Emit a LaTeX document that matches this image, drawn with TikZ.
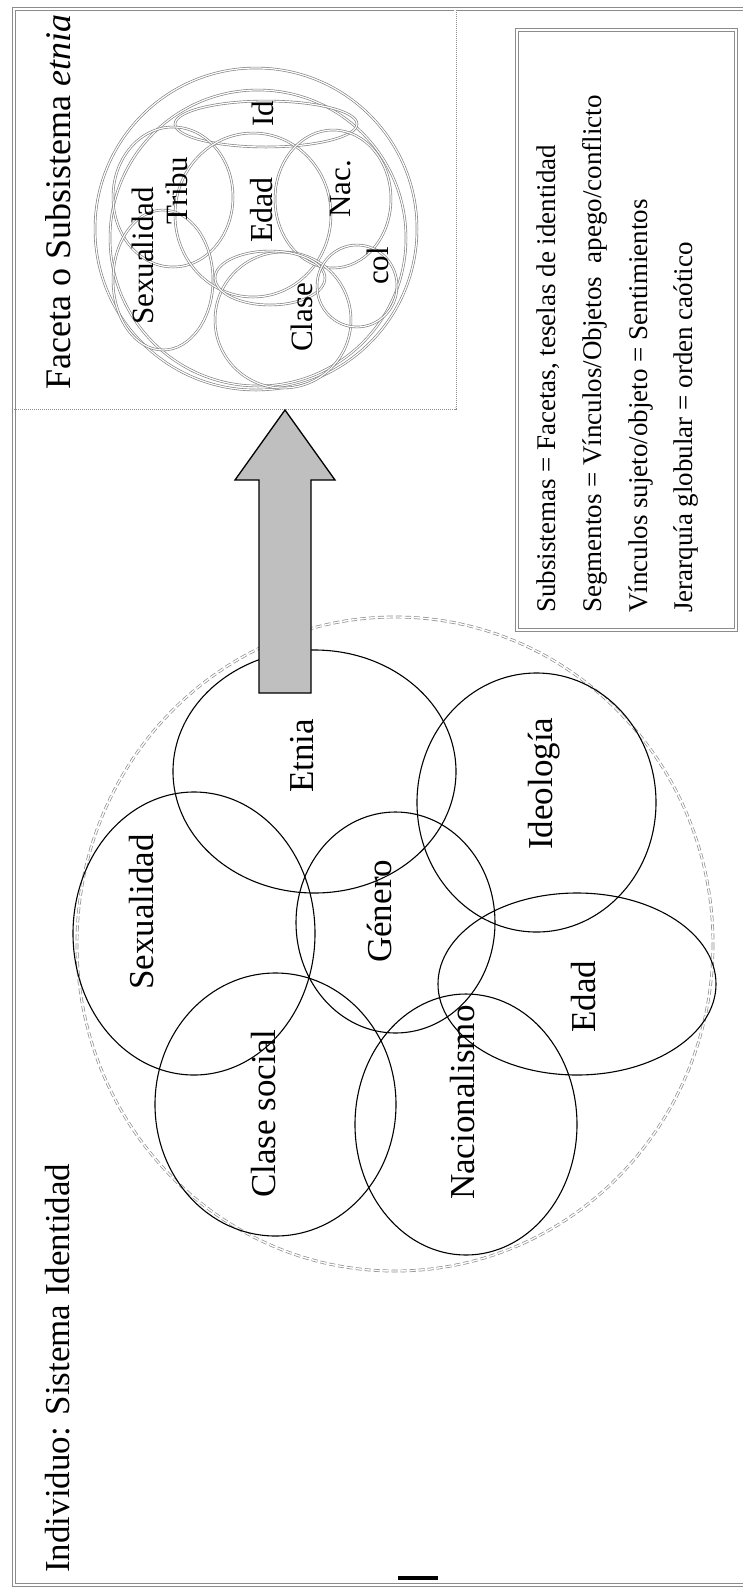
\documentclass[tikz,border=0pt]{standalone}
\usepackage{fontspec}
\setmainfont{Liberation Serif}
\definecolor{rimgray}{gray}{0.55}
\definecolor{facetgray}{gray}{0.5}
\definecolor{arrowgray}{gray}{0.75}
\begin{document}
\begin{tikzpicture}[x=1pt,y=-1pt,
  rimline/.style={draw=rimgray, line width=0.8pt, double=white, double distance=1.8pt},
  panelline/.style={draw=rimgray, line width=0.8pt, double=white, double distance=1.4pt, dash pattern=on 1pt off 1pt},
  facet/.style={draw=facetgray, line width=0.65pt, double=white, double distance=1.2pt},
  dashring/.style={draw=gray!90, line width=0.7pt, double=white, double distance=1.4pt, dash pattern=on 6pt off 3pt},
  aspect/.style={draw=black, line width=1.1pt},
  blockarrow/.style={draw=black, line width=1.3pt, fill=arrowgray, line join=miter},
  lbl/.style={rotate=90, anchor=base west, inner sep=0pt, font=\fontsize{35}{40}\selectfont},
  sublbl/.style={lbl, font=\fontsize{31}{36}\selectfont},
  leg/.style={lbl, font=\fontsize{27}{32}\selectfont}]
\useasboundingbox (0,0) rectangle (743,1591);
\fill[white] (0,0) rectangle (743,1591);

% page frame and the facet panel
\draw[rimline] (14,9) rectangle (780,1585);
\draw[panelline] (14,408) -- (455,408) -- (455,9);

% facet detail: nested double-line circles
\draw[facet] (256,229) circle [radius=161];
\draw[facet] (258,238) circle [radius=148];
\draw[facet] (266,124) ellipse [x radius=91, y radius=23];
\draw[facet] (173,197) ellipse [x radius=60, y radius=70];
\draw[facet] (163,280) ellipse [x radius=50, y radius=70];
\draw[facet] (253,215) ellipse [x radius=78, y radius=82];
\draw[facet] (333,199) ellipse [x radius=58, y radius=69];
\draw[facet] (283,320) ellipse [x radius=68, y radius=68];
\draw[facet] (270,278) ellipse [x radius=55, y radius=27];
\draw[facet] (357,286) ellipse [x radius=40, y radius=41];

\node[sublbl] (fsex) at (153,325) {Sexualidad};
\node[sublbl] (ftribu) at (187,225) {Tribu};
\node[sublbl, font=\fontsize{32}{36}\selectfont] (fedad) at (272,243) {Edad};
\node[sublbl] (fid) at (273,127) {Id};
\node[sublbl] (fnac) at (350,218) {Nac.};
\node[sublbl] (fcol) at (388,285) {col};
\node[sublbl] (fclase) at (312,352) {Clase};

\node[lbl, font=\fontsize{36}{40}\selectfont] (facettitle) at (70,390) {Faceta o Subsistema \textit{etnia}};

% identity system: dashed envelope and overlapping aspects
\draw[dashring] (395,944) ellipse [x radius=318, y radius=327];
\draw[aspect] (314.5,771.5) ellipse [x radius=141.5, y radius=121.5];
\draw[aspect] (194,933.5) ellipse [x radius=121, y radius=141.5];
\draw[aspect] (395.5,922.5) ellipse [x radius=99.5, y radius=110.5];
\draw[aspect] (536.5,802.5) ellipse [x radius=119.5, y radius=129.5];
\draw[aspect] (577,984) ellipse [x radius=139, y radius=91];
\draw[aspect] (275.5,1104.5) ellipse [x radius=120.5, y radius=131.5];
\draw[aspect] (466,1124.5) ellipse [x radius=111, y radius=130.5];

% block arrow from the system to the facet
\draw[blockarrow] (259,693) -- (259,480) -- (235,480) -- (285,410) -- (335,480) -- (311,480) -- (311,693) -- cycle;

\node[lbl] (etnia) at (313,793) {Etnia};
\node[lbl] (sexualidad) at (153,990) {Sexualidad};
\node[lbl] (genero) at (391,963) {Género};
\node[lbl] (ideologia) at (552,850) {Ideología};
\node[lbl] (edad) at (595,1033) {Edad};
\node[lbl] (clase) at (275,1198) {Clase social};
\node[lbl] (nacion) at (474,1200) {Nacionalismo};

\node[lbl] (title) at (69,1573) {Individuo: Sistema Identidad};

% legend
\draw[rimline] (517,30) rectangle (736,630);
\node[leg] (l1) at (555,613) {Subsistemas = Facetas, teselas de identidad};
\node[leg] (l2) at (601,613) {Segmentos = Vínculos/Objetos~~apego/conflicto};
\node[leg] (l3) at (647,613) {Vínculos sujeto/objeto = Sentimientos};
\node[leg] (l4) at (692,613) {Jerarquía globular = orden caótico};

% short rule at the foot
\draw[line width=4pt] (398,1578) -- (438,1578);
\end{tikzpicture}
\end{document}
